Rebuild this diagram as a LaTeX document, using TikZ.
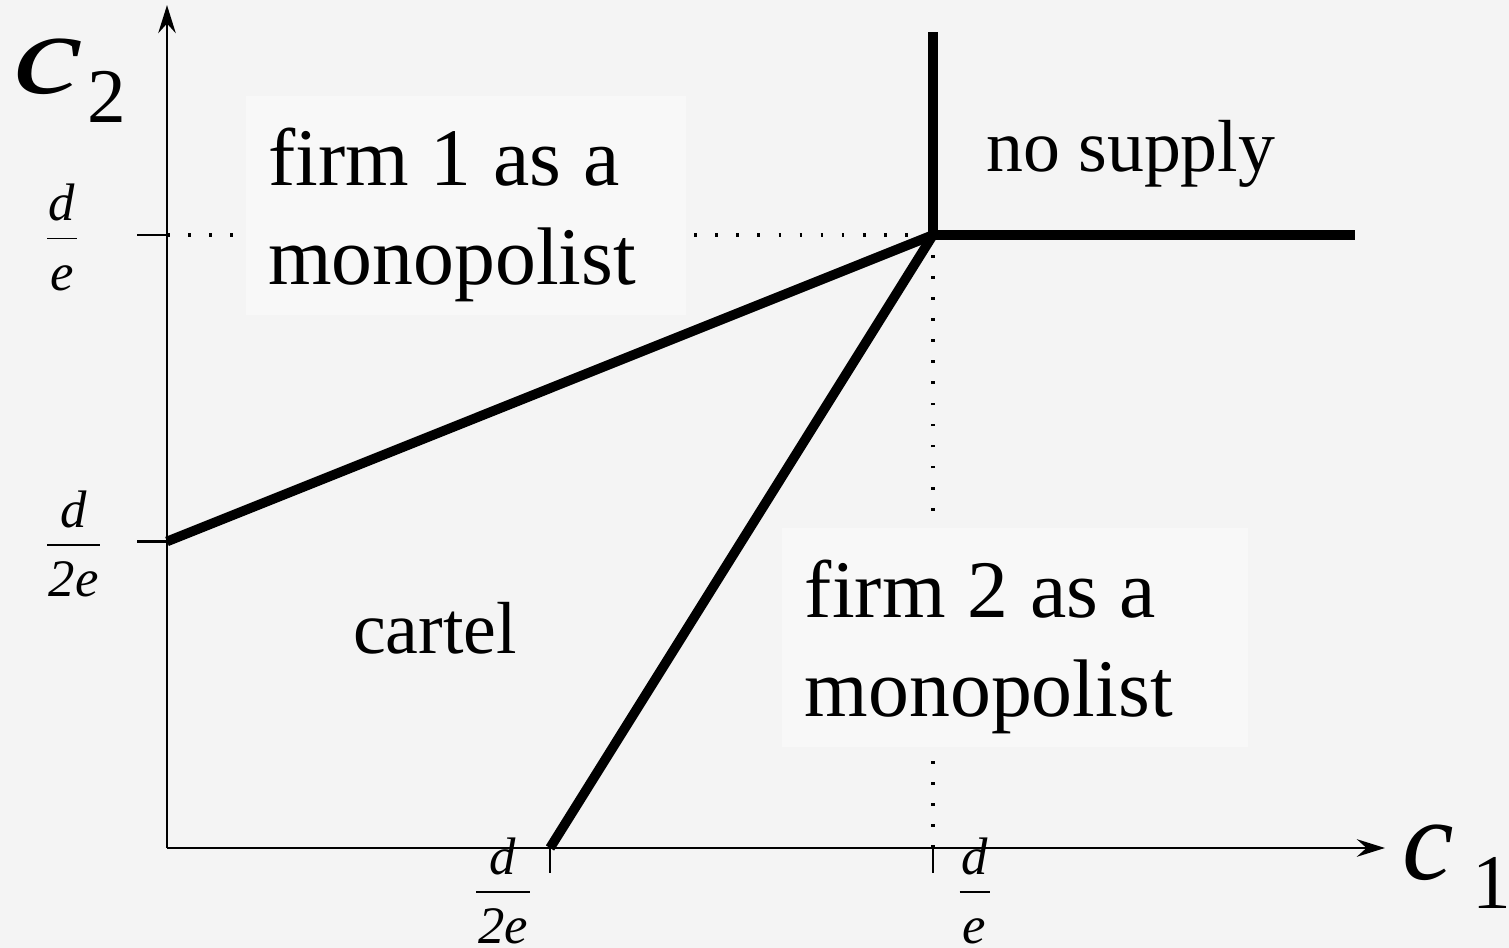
\documentclass[tikz,border=0pt]{standalone}
\usepackage{fontspec}
\setmainfont{Liberation Serif}
\usetikzlibrary{arrows.meta}
\definecolor{paper}{RGB}{244,244,244}
\definecolor{panel}{RGB}{248,248,248}
\definecolor{ink}{RGB}{0,0,0}
\setlength\arrayrulewidth{0.8pt}
% stacked fraction for the tick labels, bar a little wider than the text
\newcommand\frc[2]{\begin{tabular}{@{\kern1pt}c@{\kern1pt}}\textit{#1}\\[-1pt]\hline\rule{0pt}{29pt}\textit{#2}\\[-9pt]\end{tabular}}
% axis name: big italic letter with a lowered index
\newcommand\axlab[4]{{\fontsize{66}{70}\selectfont\scalebox{#4}[1]{\textit{#1}}}\hspace{#3}\raisebox{-16.5pt}{\fontsize{44}{50}\selectfont #2}}
% region names: large, fixed word spaces
\newcommand\regionfont{\fontsize{46.5}{56.5}\selectfont\spaceskip=12.4pt\relax}
\tikzset{
  every picture/.style={color=ink, line width=1.2pt},
  axisline/.style={-{Stealth[length=16pt,width=10pt,inset=5.5pt]}, line width=1.2pt},
  tickmark/.style={line width=1.2pt},
  bound/.style={line width=5.5pt},
  guide/.style={line width=2.4pt, dash pattern=on 1.5pt off 10.5pt},
  region/.style={fill=panel, inner xsep=0.45cm, inner ysep=0pt, align=flush left, minimum height=4.38cm, font=\regionfont},
  txt/.style={inner sep=0pt, font=\fontsize{42}{50}\selectfont},
  fraclbl/.style={inner sep=0pt, font=\fontsize{30}{36}\selectfont},
  axlbl/.style={inner sep=0pt, anchor=base west},
}

\begin{document}
\begin{tikzpicture}[x=15.32cm, y=12.26cm]
  % regions of cost pairs: x unit = d/e on c1, y unit = d/e on c2
  \useasboundingbox[fill=paper] (-3.34cm,-2cm) rectangle (26.84cm,16.96cm);
  \coordinate (O) at (0,0);
  \coordinate (K) at (1,1);
  \coordinate (A) at (0,0.5);
  \coordinate (B) at (0.5,0);
  \coordinate (T) at (1,1.331);
  \coordinate (R) at (1.551,1);
  \coordinate (Xend) at (1.59,0);
  \coordinate (Yend) at (0,1.375);

  \draw[guide] (0,1) -- (K);
  \draw[guide] (1,0) -- (K);

  \draw[axisline] (O) -- (Xend);
  \draw[axisline] (O) -- (Yend);
  \foreach \y in {0.5,1} \draw[tickmark] (-0.039,\y) -- (0,\y);
  \foreach \x in {0.5,1} \draw[tickmark] (\x,0) -- (\x,-0.041);

  \node[region, text width=7.9cm] (firm1) at (0.390,1.048) {\rule{0pt}{43.4pt}firm 1 as a\\monopolist};
  \node[region, text width=8.4cm, inner xsep=0.46cm] (firm2) at (1.107,0.343) {\rule{0pt}{43.4pt}firm 2 as a\\monopolist};

  \draw[bound] (A) -- (K);
  \draw[bound] (B) -- (K);
  \draw[bound] (T) -- (K) -- (R);

  \node[txt, anchor=base west] (nosup) at (1.068,1.103) {no supply};
  \node[txt, anchor=base west] (cartel) at (0.2415,0.318) {cartel};

  \node[fraclbl, anchor=west] (fy1) at (-0.158,1) {\frc{d}{e}};
  \node[fraclbl, anchor=west] (fy2) at (-0.158,0.5) {\frc{d}{2e}};
  \node[fraclbl] (fx2) at (0.4386,-0.066) {\frc{d}{2e}};
  \node[fraclbl] (fx1) at (1.0542,-0.066) {\frc{d}{e}};

  \node[axlbl] (c2) at (-0.2023,1.2316) {\axlab{c}{2}{3pt}{1.35}};
  \node[axlbl] (c1) at (1.6110,-0.0522) {\axlab{c}{1}{11pt}{1}};
\end{tikzpicture}
\end{document}
